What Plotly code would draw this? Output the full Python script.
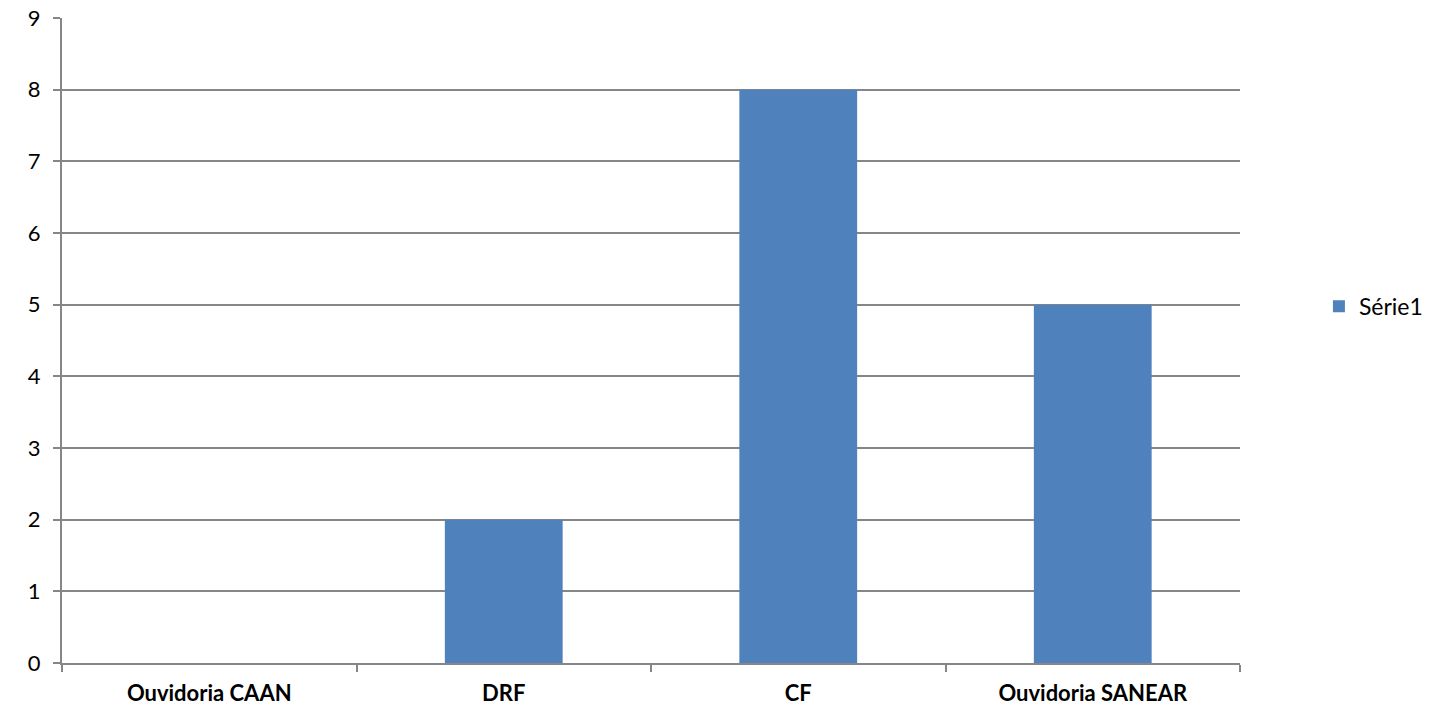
import plotly.graph_objects as go

categories = ["Ouvidoria CAAN", "DRF", "CF", "Ouvidoria SANEAR"]
values = [0, 2, 8, 5]
series_name = "Série1"

FONT = "Lato, Open Sans, sans-serif"

fig = go.Figure()
fig.add_trace(go.Bar(
    x=categories, y=values, name=series_name,
    marker=dict(color="#4F81BD", line=dict(width=0)),
    width=0.4, showlegend=True,
))

fig.update_layout(
    width=1446, height=713,
    margin=dict(l=62, r=206, t=18, b=50, autoexpand=False),
    plot_bgcolor="white", paper_bgcolor="white",
    font=dict(family=FONT, color="#000000", size=22),
    showlegend=True,
    legend=dict(x=1.067, y=0.553, xanchor="left", yanchor="middle",
                font=dict(size=23), itemwidth=30, bgcolor="rgba(0,0,0,0)"),
)
fig.update_xaxes(
    type="category", showgrid=False, showline=True, linecolor="#868686", linewidth=2,
    ticks="outside", tickson="boundaries", ticklen=7, tickcolor="#868686", tickwidth=2,
    tickfont=dict(size=22, family=FONT, weight="bold"), ticklabelstandoff=10,
    range=[-0.5, 3.5], automargin=False,
)
fig.update_yaxes(
    range=[0, 9], dtick=1, showgrid=True, gridcolor="#868686", gridwidth=1.5,
    showline=True, linecolor="#868686", linewidth=2, zeroline=False,
    ticks="outside", ticklen=7, tickcolor="#868686", tickwidth=2,
    tickfont=dict(size=22), ticklabelstandoff=8, automargin=False,
)

fig.write_html("out.html", config={"displayModeBar": False},
               post_script="document.body.style.margin='0';document.body.style.padding='0';")
